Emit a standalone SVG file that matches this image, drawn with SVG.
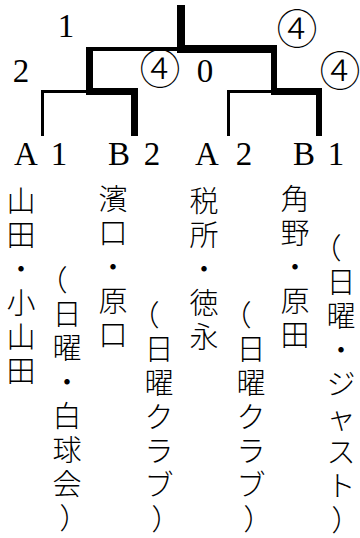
<svg xmlns="http://www.w3.org/2000/svg" width="360" height="538" viewBox="0 0 360 538">
<style>
.ln{fill:#000}
.lat{font-family:"Liberation Serif","Noto Sans CJK JP",serif;font-size:33px;fill:#000;text-anchor:middle}
.circ{font-family:"Noto Sans CJK JP",sans-serif;font-weight:200;font-size:41px;fill:#000;text-anchor:middle}
.v{font-family:"Noto Sans CJK JP",sans-serif;font-weight:300;font-size:29px;fill:#000;text-anchor:middle}
</style>
<rect width="360" height="538" fill="#fff"/>
<g id="connectors">
<rect class="ln" x="41" y="90" width="3" height="46"/>
<rect class="ln" x="41" y="90" width="48" height="3"/>
<rect class="ln" x="131" y="88" width="7" height="48"/>
<rect class="ln" x="86" y="88" width="52" height="7"/>
<rect class="ln" x="86" y="47" width="7" height="48"/>
<rect class="ln" x="86" y="47" width="94" height="4"/>
<rect class="ln" x="177" y="5" width="8" height="48"/>
<rect class="ln" x="177" y="45" width="100" height="8"/>
<rect class="ln" x="271" y="45" width="6" height="50"/>
<rect class="ln" x="227" y="90" width="3" height="46"/>
<rect class="ln" x="227" y="90" width="46" height="3"/>
<rect class="ln" x="271" y="88" width="51" height="7"/>
<rect class="ln" x="316" y="88" width="6" height="48"/>
</g>
<g id="scores">
<text class="lat" x="66" y="37">1</text>
<text class="lat" x="21" y="82">2</text>
<text class="circ" x="160" y="84">④</text>
<text class="lat" x="205" y="82">0</text>
<text class="circ" x="297" y="44">④</text>
<text class="circ" x="340" y="86">④</text>
</g>
<g id="A1">
<text class="lat" y="165"><tspan x="26">A</tspan><tspan x="59">1</tspan></text>
<text class="v"><tspan x="21" y="212">山</tspan><tspan x="21" dy="34">田</tspan><tspan x="21" dy="34">・</tspan><tspan x="21" dy="34">小</tspan><tspan x="21" dy="34">山</tspan><tspan x="21" dy="34">田</tspan></text>
<text class="v"><tspan x="53" y="291">（</tspan><tspan x="67" dy="34">日</tspan><tspan x="67" dy="34">曜</tspan><tspan x="67" dy="34">・</tspan><tspan x="67" dy="34">白</tspan><tspan x="67" dy="34">球</tspan><tspan x="67" dy="34">会</tspan><tspan x="74" dy="34">）</tspan></text>
</g>
<g id="B2">
<text class="lat" y="165"><tspan x="119">B</tspan><tspan x="152">2</tspan></text>
<text class="v"><tspan x="113" y="210">濱</tspan><tspan x="113" dy="34">口</tspan><tspan x="113" dy="34">・</tspan><tspan x="113" dy="34">原</tspan><tspan x="113" dy="34">口</tspan></text>
<text class="v"><tspan x="145" y="326">（</tspan><tspan x="159" dy="34">日</tspan><tspan x="159" dy="34">曜</tspan><tspan x="159" dy="34">ク</tspan><tspan x="159" dy="34">ラ</tspan><tspan x="159" dy="34">ブ</tspan><tspan x="166" dy="34">）</tspan></text>
</g>
<g id="A2">
<text class="lat" y="165"><tspan x="207">A</tspan><tspan x="244">2</tspan></text>
<text class="v"><tspan x="204" y="212">税</tspan><tspan x="204" dy="34">所</tspan><tspan x="204" dy="34">・</tspan><tspan x="204" dy="34">徳</tspan><tspan x="204" dy="34">永</tspan></text>
<text class="v"><tspan x="237" y="326">（</tspan><tspan x="251" dy="34">日</tspan><tspan x="251" dy="34">曜</tspan><tspan x="251" dy="34">ク</tspan><tspan x="251" dy="34">ラ</tspan><tspan x="251" dy="34">ブ</tspan><tspan x="258" dy="34">）</tspan></text>
</g>
<g id="B1">
<text class="lat" y="165"><tspan x="304">B</tspan><tspan x="336">1</tspan></text>
<text class="v"><tspan x="295" y="210">角</tspan><tspan x="295" dy="34">野</tspan><tspan x="295" dy="34">・</tspan><tspan x="295" dy="34">原</tspan><tspan x="295" dy="34">田</tspan></text>
<text class="v"><tspan x="327" y="259">（</tspan><tspan x="341" dy="34">日</tspan><tspan x="341" dy="34">曜</tspan><tspan x="341" dy="34">・</tspan><tspan x="341" dy="34">ジ</tspan><tspan x="341" dy="34">ャ</tspan><tspan x="341" dy="34">ス</tspan><tspan x="341" dy="34">ト</tspan><tspan x="346" dy="34">）</tspan></text>
</g>
</svg>
